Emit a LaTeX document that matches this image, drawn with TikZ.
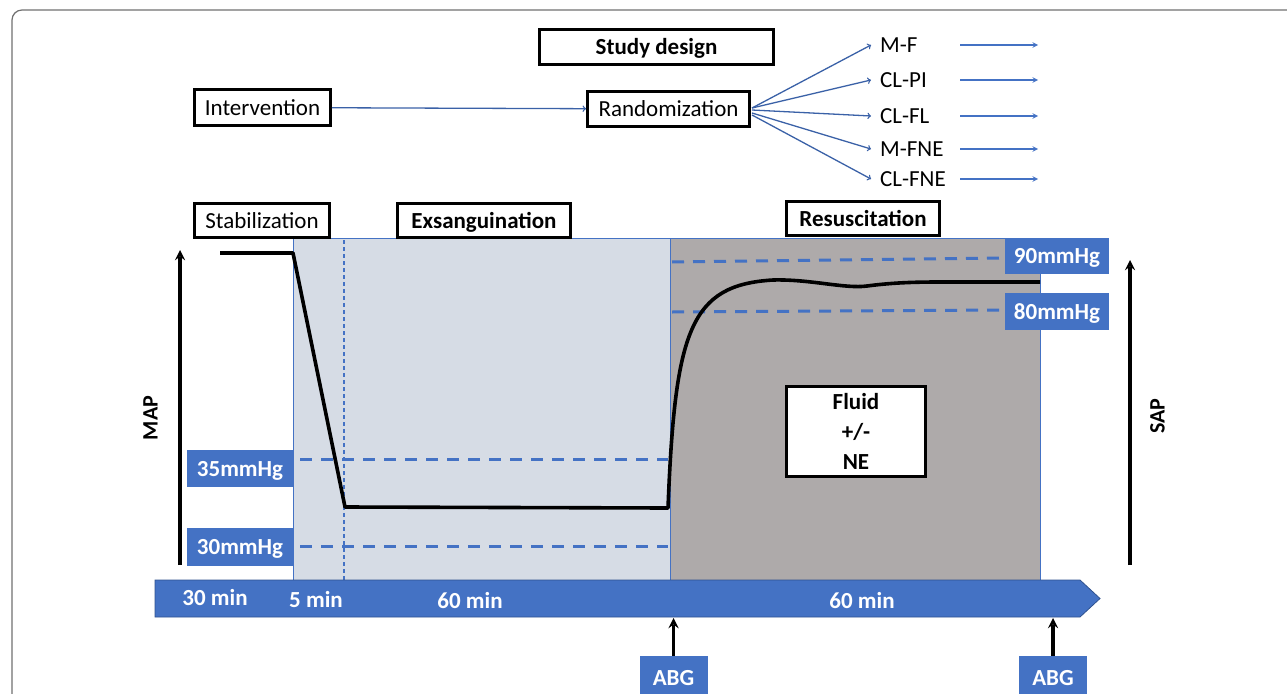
\documentclass[tikz,border=0pt]{standalone}
\usepackage{fontspec}
\setmainfont{Carlito}
\usepackage{tikz}
\usetikzlibrary{calc}
\usetikzlibrary{arrows}
\definecolor{officeblue}{HTML}{4472C4}
\definecolor{barline}{HTML}{2F528F}
\definecolor{exsfill}{HTML}{D6DCE5}
\definecolor{resfill}{HTML}{AEAAAA}
\definecolor{framegray}{HTML}{707070}
\tikzset{
    plain text/.style={font=\fontsize{23}{27}\selectfont, text height=15pt, text depth=0pt, inner sep=0pt},
    bold text/.style={font=\fontsize{23}{27}\selectfont\bfseries, text height=15pt, text depth=0pt, inner sep=0pt},
    phasebox/.style={draw=black, line width=2.8pt, fill=white},
    levelbox/.style={bold text, fill=officeblue, text=white},
    fanarrow/.style={->, officeblue!85!black, line width=1.3pt},
    armarrow/.style={-stealth, officeblue, line width=1.4pt},
    axisarrow/.style={-stealth, black, line width=3.4pt},
    leveldash/.style={officeblue, line width=3pt, dash pattern=on 12pt off 9pt},
    mapcurve/.style={black, line width=3.6pt, line join=round}
}
\begin{document}
\begin{tikzpicture}[x=1pt, y=-1pt]
    \useasboundingbox (0,0) rectangle (1287,693);
    \clip (0,0) rectangle (1287,693);
    \draw[framegray, line width=1.2pt, rounded corners=10pt] (1300,10) -- (12,10) -- (12,720);

    % phases
    \fill[exsfill] (293,238) rectangle (670,580);
    \draw[officeblue, line width=0.8pt] (293,580) -- (293,238) -- (670,238);
    \fill[resfill] (670,238) rectangle (1040,580);
    \draw[officeblue, line width=0.8pt] (670,580) -- (670,238) -- (1040,238) -- (1040,580);
    \draw[officeblue, line width=1.6pt, dash pattern=on 4pt off 3pt] (344,240) -- (344,580);

    % target pressures
    \draw[leveldash] (300,459) -- (668,459);
    \draw[leveldash] (300,546) -- (668,546);
    \draw[leveldash] (672,262) -- (1005,258);
    \draw[leveldash] (672,312) -- (1005,310);

    \draw[mapcurve] (220,253) -- (293,253) -- (345,507) -- (668,508)
        .. controls (675,330) and (690,285) .. (773,280)
        .. controls (810,279) and (845,289) .. (867,286)
        .. controls (890,283) and (910,282) .. (940,282) -- (1040,282);

    \node[levelbox, minimum width=106pt, minimum height=37pt] (lev35) at (240,468.5) {35mmHg};
    \node[levelbox, minimum width=106pt, minimum height=38pt] (lev30) at (240,547) {30mmHg};
    \node[levelbox, minimum width=104pt, minimum height=36pt] (lev90) at (1057,256) {90mmHg};
    \node[levelbox, minimum width=104pt, minimum height=37pt] (lev80) at (1057,311.5) {80mmHg};

    % boxes
    \node[phasebox, bold text, minimum width=234pt, minimum height=35pt] (design) at (656.5,47) {Study design};
    \node[phasebox, plain text, minimum width=136pt, minimum height=36pt] (interv) at (262.5,107.5) {Intervention};
    \node[phasebox, plain text, minimum width=162pt, minimum height=35pt] (rand) at (668.5,109) {Randomization};
    \node[phasebox, plain text, minimum width=135pt, minimum height=34pt] (stab) at (262,220.5) {Stabilization};
    \node[phasebox, bold text, minimum width=173pt, minimum height=34pt] (exsang) at (484,220.5) {Exsanguination};
    \node[phasebox, bold text, minimum width=153pt, minimum height=34pt] (resusc) at (863,218.5) {Resuscitation};
    \node[phasebox, font=\fontsize{23}{30}\selectfont\bfseries, align=center, minimum width=139pt, minimum height=90pt] (fluid) at (856,431.5) {Fluid\\+/-\\NE};

    \draw[fanarrow] (interv) -- (rand);
    \foreach \arm/\lab/\ya/\yb in {mf/M-F/45/108, clpi/CL-PI/80/108, clfl/CL-FL/116/110, mfne/M-FNE/149/113, clfne/CL-FNE/179/115}{
        \node[plain text, anchor=west] (\arm) at (880,\ya) {\lab};
        \coordinate (\arm in) at (752,\yb);
        \draw[fanarrow] (\arm in) -- ($(\arm.west)+(-9,0)$);
        \coordinate (\arm out) at (960,\ya);
        \coordinate (\arm end) at (1038,\ya);
        \draw[armarrow] (\arm out) -- (\arm end);
    }

    % axes
    \node[bold text, rotate=90, font=\fontsize{22}{26}\selectfont\bfseries] (map) at (150,418) {MAP};
    \node[bold text, rotate=90, font=\fontsize{22}{26}\selectfont\bfseries] (sap) at (1157,416) {SAP};
    \coordinate (mapfoot) at (180,565);
    \coordinate (maptip) at (180,250);
    \draw[axisarrow] (mapfoot) -- (maptip);
    \coordinate (sapfoot) at (1130,565);
    \coordinate (saptip) at (1130,260);
    \draw[axisarrow] (sapfoot) -- (saptip);

    % time line
    \draw[fill=officeblue, draw=barline, line width=0.8pt] (155,580) -- (1080,580) -- (1100,598.5) -- (1080,617) -- (155,617) -- cycle;
    \node[bold text, text=white] (t30) at (215,598) {30 min};
    \node[bold text, text=white] (t5) at (316,600) {5 min};
    \node[bold text, text=white] (t60a) at (470,601) {60 min};
    \node[bold text, text=white] (t60b) at (862,601) {60 min};

    \node[levelbox, minimum width=68pt, minimum height=44pt] (abg1) at (673.5,678) {ABG};
    \node[levelbox, minimum width=68pt, minimum height=44pt] (abg2) at (1053,678) {ABG};
    \coordinate (abgtip1) at (673.5,618);
    \coordinate (abgtip2) at (1053,618);
    \draw[axisarrow] (abg1) -- (abgtip1);
    \draw[axisarrow] (abg2) -- (abgtip2);
\end{tikzpicture}
\end{document}
